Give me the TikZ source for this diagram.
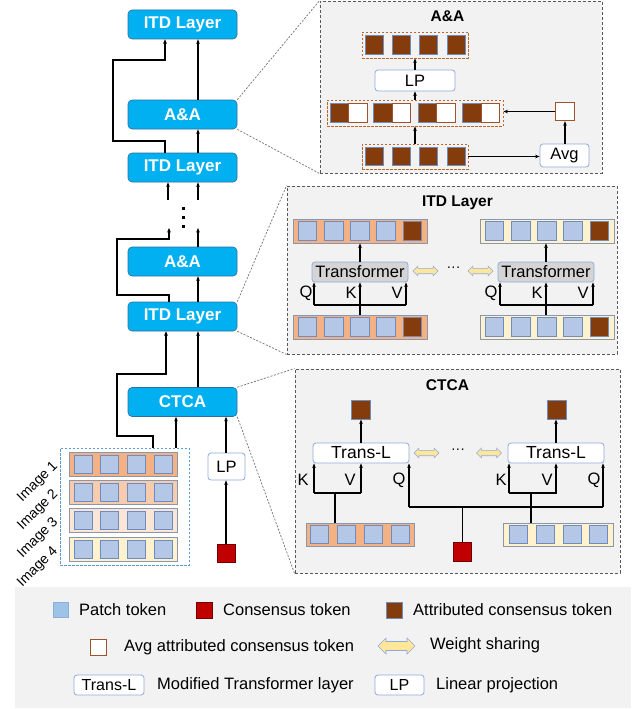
\documentclass[tikz,border=0pt]{standalone}
\usepackage{fontspec}
\setmainfont{Liberation Sans}
\usetikzlibrary{arrows.meta,shapes.arrows}
\newcommand{\pxfont}[1]{\fontsize{#1}{#1}\selectfont}

\definecolor{blkfill}{HTML}{00B0F0}
\definecolor{blkedge}{HTML}{2F6F9F}
\definecolor{panelfill}{HTML}{F2F2F2}
\definecolor{paneledge}{HTML}{595959}
\definecolor{guidegray}{HTML}{707070}
\definecolor{patchfill}{HTML}{B4C7E7}
\definecolor{patchedge}{HTML}{6F8CC0}
\definecolor{attrfill}{HTML}{843C0C}
\definecolor{consfill}{HTML}{C00000}
\definecolor{imgA}{HTML}{F4B183}
\definecolor{imgB}{HTML}{F8CBAD}
\definecolor{imgC}{HTML}{FBE5D6}
\definecolor{imgD}{HTML}{FFF2CC}
\definecolor{stripedge}{HTML}{8C96AA}
\definecolor{boxedge}{HTML}{8FAADC}
\definecolor{tfgray}{HTML}{D4D4D4}
\definecolor{sharefill}{HTML}{FFE699}
\definecolor{avgedge}{HTML}{A0522D}
\definecolor{grpbrown}{HTML}{C0662D}
\definecolor{groupedge}{HTML}{5B9BD5}
\definecolor{legpatch}{HTML}{9DC3E6}

\begin{document}
\begin{tikzpicture}[x=1pt,y=-1pt,
  blk/.style={draw=blkedge, fill=blkfill, line width=0.6pt, rounded corners=4pt,
    minimum width=109pt, minimum height=29pt, inner sep=0pt, text=white,
    font=\bfseries\pxfont{17}},
  arr/.style={line width=1.2pt, -{Stealth[length=4.5pt,width=3.6pt]}},
  skip/.style={line width=1.9pt, -{Stealth[length=4.5pt,width=3.8pt]}},
  bus/.style={line width=1.7pt},
  panel/.style={draw=paneledge, fill=panelfill, line width=0.9pt,
    dash pattern=on 3pt off 2pt, inner sep=0pt},
  guide/.style={draw=guidegray, line width=0.7pt, dash pattern=on 2pt off 1.5pt},
  title/.style={font=\bfseries\pxfont{15.5}, inner sep=0pt},
  patch/.style={draw=patchedge, fill=patchfill, line width=0.7pt,
    minimum width=18.5pt, minimum height=18.5pt, inner sep=0pt},
  attr/.style={patch, fill=attrfill},
  cons/.style={patch, draw=consfill!60!black, fill=consfill},
  hollow/.style={patch, fill=white, draw=avgedge, line width=0.9pt},
  strip/.style={draw=stripedge, line width=0.7pt, inner sep=0pt, minimum height=24pt},
  grp/.style={draw=grpbrown, line width=0.9pt, dash pattern=on 2.5pt off 1.5pt,
    inner sep=0pt},
  lpbox/.style={draw=boxedge, fill=white, line width=0.8pt, rounded corners=3pt,
    inner sep=0pt, font=\pxfont{16.5}},
  tfbox/.style={lpbox, fill=tfgray, minimum width=96pt, minimum height=20pt},
  tlbox/.style={lpbox, minimum width=96pt, minimum height=20pt, font=\pxfont{17.5}},
  lbl/.style={font=\pxfont{16.5}, inner sep=0pt},
  share/.style={shape=double arrow, double arrow head extend=2.2pt, draw=boxedge,
    fill=sharefill, line width=0.6pt, minimum height=25pt, inner sep=2.4pt},
  imglab/.style={font=\pxfont{14}, inner sep=0pt, rotate=45, anchor=east},
  legtext/.style={font=\pxfont{16.5}, inner sep=0pt, anchor=west}
]
\useasboundingbox (0,0) rectangle (644,709);

% ---------------- detail panels ----------------
\node[panel, minimum width=282pt, minimum height=172pt] (aaP) at (461,87) {};
\node[panel, minimum width=330pt, minimum height=168pt] (itdP) at (452,270) {};
\node[panel, minimum width=325pt, minimum height=204pt] (ctcaP) at (457.5,471) {};

% ---------------- main column ----------------
\node[blk] (itdA) at (182.5,24.5) {ITD Layer};
\node[blk] (aaA) at (182.5,114.5) {A\&A};
\node[blk] (itdB) at (182.5,167.5) {ITD Layer};
\node[blk] (aaB) at (182.5,261.5) {A\&A};
\node[blk] (itdC) at (182.5,316.5) {ITD Layer};
\node[blk] (ctca) at (182.5,402) {CTCA};

% image group
\node[draw=groupedge, line width=1pt, dash pattern=on 2.5pt off 1.5pt,
  minimum width=129pt, minimum height=117pt, inner sep=0pt] (imgs) at (124.5,506.5) {};
\foreach \c/\y [count=\r] in {imgA/464, imgB/492, imgC/520, imgD/549} {
  \node[strip, fill=\c, minimum width=108pt] (im\r) at (123,\y) {};
  \foreach \x [count=\i] in {83,109,136,163}
    \node[patch, minimum width=18pt, minimum height=18pt] (im\r p\i) at (\x,\y) {};
  \node[imglab] (imlab\r) at (56,\y) {Image \r};
}

\node[lpbox, minimum width=37pt, minimum height=27pt] (lpA) at (226.5,466.5) {LP};
\node[cons, minimum width=18pt, minimum height=18pt] (consA) at (226,553) {};

% connections of the main column
\coordinate (cR) at (198,0);
\draw[arr] (aaA.north -| cR) -- (itdA.south -| cR);
\draw[skip] (itdB.north -| 165,0) -- (165,141) -- (113,141) -- (113,60) -- (165,60)
  -- (itdA.south -| 165,0);
\draw[arr] (itdB.north -| cR) -- (aaA.south -| cR);
\coordinate (upL) at (168,200);
\coordinate (upR) at (198,200);
\draw[arr] (upL) -- (itdB.south -| upL);
\draw[arr] (upR) -- (itdB.south -| upR);
\foreach \y in {208,217,226}
  \fill (181.5,\y-1.5) rectangle +(3,3);
\coordinate (topL) at (169,228);
\coordinate (topR) at (198,228);
\draw[arr] (aaB.north -| topR) -- (topR);
\draw[skip] (itdC.north -| topL) -- (169,295) -- (117,295) -- (117,239) -- (169,239)
  -- (topL);
\draw[arr] (itdC.north -| cR) -- (aaB.south -| cR);
\draw[arr] (ctca.north -| cR) -- (itdC.south -| cR);
\draw[skip] (imgs.north -| 153,0) -- (153,436) -- (117,436) -- (117,374) -- (166,374)
  -- (itdC.south -| 166,0);
\draw[arr] (imgs.north -| 176,0) -- (ctca.south -| 176,0);
\draw[arr] (consA.north) -- (lpA.south -| consA.north);
\draw[arr] (lpA.north -| consA.north) -- (ctca.south -| consA.north);

% guide lines to the detail panels
\draw[guide] (aaA.north east) -- (aaP.north west);
\draw[guide] (aaA.south east) -- (aaP.south west);
\draw[guide] (itdC.north east) -- (itdP.north west);
\draw[guide] (itdC.south east) -- (itdP.south west);
\draw[guide] (ctca.north east) -- (ctcaP.north west);
\draw[guide] (ctca.south east) -- (ctcaP.south west);

% ---------------- A&A panel ----------------
\node[title] (aaT) at (447.5,16) {A\&A};
\node[grp, minimum width=106pt, minimum height=26pt] (aaOut) at (415,45) {};
\foreach \x [count=\i] in {374.5,401.5,428.5,456.5}
  \node[attr] (ao\i) at (\x,45) {};
\node[lpbox, minimum width=80pt, minimum height=21pt] (aaLP) at (415,80.5) {LP};
\node[grp, minimum width=176pt, minimum height=26pt] (aaMid) at (415,113) {};
\foreach \x [count=\i] in {339.5,383,427.5,472} {
  \node[attr] (am\i) at (\x,113) {};
  \node[hollow] (ah\i) at (\x+18.5,113) {};
}
\node[grp, minimum width=106pt, minimum height=25pt] (aaIn) at (415,156.5) {};
\foreach \x [count=\i] in {374.5,401.5,428.5,456.5}
  \node[attr] (ai\i) at (\x,156.5) {};
\node[lpbox, minimum width=49pt, minimum height=23pt] (avg) at (564.5,155.5) {Avg};
\node[hollow] (avgTok) at (565,111.5) {};
\draw[arr] (aaIn.north) -- (aaMid.south);
\draw[arr] (aaMid.north) -- (aaLP.south);
\draw[arr] (aaLP.north) -- (aaOut.south);
\draw[arr] (aaIn.east) -- (avg.west |- aaIn.east);
\draw[arr] (avg.north -| avgTok.south) -- (avgTok.south);
\draw[arr] (avgTok.west) -- (aaMid.east |- avgTok.west);

% ---------------- ITD panel ----------------
\node[title] (itdT) at (457.5,203) {ITD Layer};
\foreach \nm/\c/\cx/\y in {iTL/imgA/360/231, iBL/imgA/360/327, iTR/imgD/547/231, iBR/imgD/547/327} {
  \node[strip, fill=\c, minimum width=134pt] (\nm) at (\cx,\y) {};
  \foreach \dx [count=\i] in {-52.5,-26,0,26}
    \node[patch] (\nm p\i) at (\cx+\dx,\y) {};
  \node[attr] (\nm p5) at (\cx+52.5,\y) {};
}
\node[tfbox] (tfL) at (360,272) {Transformer};
\node[tfbox] (tfR) at (546,272) {Transformer};
\draw[arr] (tfL.north) -- (iTL.south -| tfL.north);
\draw[arr] (tfR.north) -- (iTR.south -| tfR.north);
\draw[bus] (iBL.north -| tfL.south) -- (360,305);
\draw[bus] (314,305) -- (406,305);
\foreach \x in {314,360,406}
  \draw[arr] (\x,305) -- (tfL.south -| \x,0);
\draw[bus] (iBR.north -| tfR.south) -- (546,305);
\draw[bus] (500,305) -- (593,305);
\foreach \x in {500,546,593}
  \draw[arr] (\x,305) -- (tfR.south -| \x,0);
\node[lbl] (qA) at (306,293) {Q};
\node[lbl] (kA) at (351,293) {K};
\node[lbl] (vA) at (397,293) {V};
\node[lbl] (qB) at (491,293) {Q};
\node[lbl] (kB) at (537,293) {K};
\node[lbl] (vB) at (583,293) {V};
\node[share] (shA) at (425.5,271) {};
\node[font=\pxfont{14}, inner sep=0pt] (dotsA) at (453.5,269) {···};
\node[share] (shB) at (480.5,271) {};

% ---------------- CTCA panel ----------------
\node[title] (ctcaT) at (447.5,385) {CTCA};
\node[attr] (cOutL) at (361,410) {};
\node[attr] (cOutR) at (557,410) {};
\node[tlbox] (tlL) at (361,453) {Trans-L};
\node[tlbox] (tlR) at (556,453) {Trans-L};
\draw[arr] (tlL.north) -- (cOutL.south -| tlL.north);
\draw[arr] (tlR.north) -- (cOutR.south -| tlR.north);
\node[strip, fill=imgA, minimum width=108pt, minimum height=23pt] (cRowL) at (360,534.5) {};
\foreach \x [count=\i] in {319.5,346,373,400}
  \node[patch, minimum width=18pt, minimum height=18pt] (cl\i) at (\x,534.5) {};
\node[strip, fill=imgD, minimum width=110pt, minimum height=23pt] (cRowR) at (558,534.5) {};
\foreach \x [count=\i] in {518,545,572,598.5}
  \node[patch, minimum width=18pt, minimum height=18pt] (cr\i) at (\x,534.5) {};
\node[cons] (cCons) at (462.5,552) {};
% K/V from the left image
\draw[bus] (cRowL.north -| 335,0) -- (335,493);
\draw[bus] (314,493) -- (361,493);
\draw[arr] (314,493) -- (tlL.south -| 314,0);
\draw[arr] (361,493) -- (tlL.south);
% Q from the consensus token
\draw[bus] (cCons.north) -- (462.5,507);
\draw[bus] (409,507) -- (603,507);
\draw[arr] (409,507) -- (tlL.south -| 409,0);
\draw[arr] (603,507) -- (tlR.south -| 603,0);
% K/V from the right image
\draw[bus] (cRowR.north -| 531,0) -- (531,493);
\draw[bus] (509,493) -- (557,493);
\draw[arr] (509,493) -- (tlR.south -| 509,0);
\draw[arr] (556,493) -- (tlR.south);
\node[lbl] (kC) at (303,480) {K};
\node[lbl] (vC) at (350,480) {V};
\node[lbl] (qC) at (399,480) {Q};
\node[lbl] (kD) at (501,480) {K};
\node[lbl] (vD) at (547,480) {V};
\node[lbl] (qD) at (594,480) {Q};
\node[share] (shC) at (426.5,453) {};
\node[font=\pxfont{14}, inner sep=0pt] (dotsC) at (458,451) {···};
\node[share] (shD) at (489,453) {};

% ---------------- legend ----------------
\node[fill=panelfill, minimum width=616pt, minimum height=121pt, inner sep=0pt] (legend) at (323,647.5) {};
\node[patch, fill=legpatch, draw=boxedge, minimum width=15pt, minimum height=15pt] (lgPatch) at (61,610) {};
\node[legtext] (lgPatchT) at (79,610) {Patch token};
\node[cons, minimum width=16pt, minimum height=16pt] (lgCons) at (204,610) {};
\node[legtext] (lgConsT) at (223,610) {Consensus token};
\node[attr, minimum width=16pt, minimum height=16pt] (lgAttr) at (394,610) {};
\node[legtext] (lgAttrT) at (413,610) {Attributed consensus token};
\node[hollow, minimum width=16pt, minimum height=16pt] (lgAvg) at (98.5,647) {};
\node[legtext] (lgAvgT) at (124,647) {Avg attributed consensus token};
\node[share, minimum height=37pt, inner sep=4.2pt, double arrow head extend=3.5pt] (lgShare) at (396.5,646) {};
\node[legtext] (lgShareT) at (430,645) {Weight sharing};
\node[lpbox, minimum width=70pt, minimum height=20pt, font=\pxfont{16}] (lgTL) at (109,685) {Trans-L};
\node[legtext] (lgTLT) at (157,685) {Modified Transformer layer};
\node[lpbox, minimum width=49pt, minimum height=20pt, font=\pxfont{16}] (lgLP) at (399.5,685) {LP};
\node[legtext] (lgLPT) at (436,685) {Linear projection};

\end{tikzpicture}
\end{document}
